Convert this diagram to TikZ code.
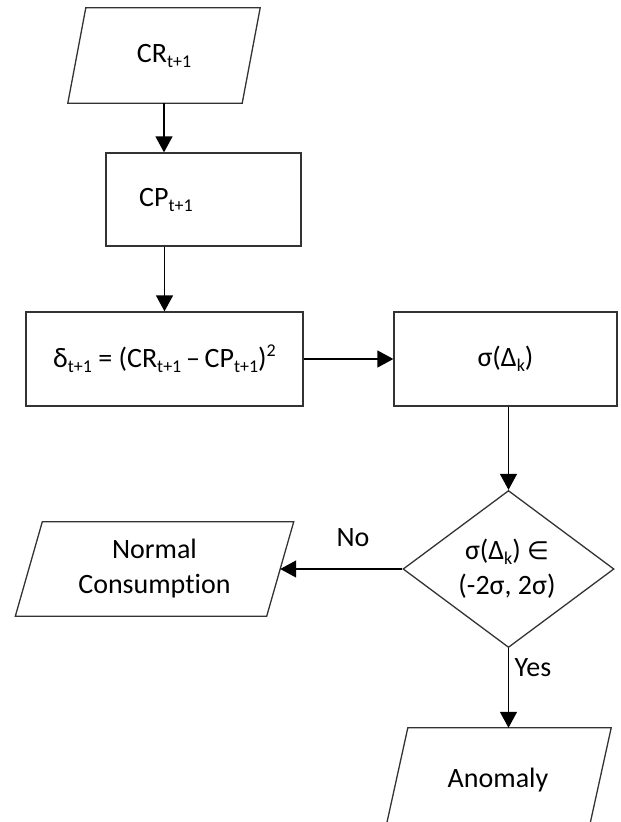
\documentclass[tikz,border=0pt]{standalone}
\usepackage{fontspec}
\setmainfont{Carlito}[Ligatures=NoCommon]
\newfontfamily\symbfont{DejaVu Sans}
\usetikzlibrary{arrows.meta,shapes.geometric,calc}
\newcommand\lowsub[1]{\raisebox{-5pt}{\fontsize{18}{18}\selectfont #1}}
\newcommand\highsup[1]{\raisebox{11pt}{\fontsize{18}{18}\selectfont #1}}
\newcommand\paradraw[2]{\draw[edge] ($(#1.north west)+(#2/2,0)$) -- ($(#1.north east)+(#2/2,0)$) -- ($(#1.south east)-(#2/2,0)$) -- ($(#1.south west)-(#2/2,0)$) -- cycle;}
\begin{document}
\begin{tikzpicture}[x=1pt,y=-1pt,
  font=\fontsize{28}{35}\selectfont,
  edge/.style={draw=black!80, line width=1.3pt},
  arr/.style={-{Triangle[length=16pt,width=17pt]}, draw=black, line width=1.3pt},
  boxnode/.style={rectangle, edge, inner sep=0pt},
  textonly/.style={rectangle, inner sep=0pt, align=center}]
\useasboundingbox (0,0) rectangle (621,822);
% nodes
\node[textonly, minimum width=174pt, minimum height=95pt] (cr) at (164,55.5) {CR\lowsub{t+1}};
\paradraw{cr}{18}
\node[boxnode, minimum width=195pt, minimum height=93pt] (cp) at (203.5,199.5) {};
\node[textonly] (cptext) at (166,200) {CP\lowsub{t+1}};
\node[boxnode, minimum width=277pt, minimum height=94pt] (delta) at (164.5,359) {δ\lowsub{t+1} = (CR\lowsub{t+1}\,–\,CP\lowsub{t+1})\highsup{2}};
\node[boxnode, minimum width=223pt, minimum height=94pt] (sigma) at (505.5,359) {σ(Δ\lowsub{k})};
\node[diamond, edge, minimum width=211pt, minimum height=157pt, inner sep=0pt] (dec) at (508.5,569) {};
\node[textonly] (dectext) at (507,569) {σ(Δ\lowsub{k}) {\symbfont\fontsize{25}{25}\selectfont ∈}\\(-2σ, 2σ)};
\node[textonly, minimum width=251pt, minimum height=94pt] (normal) at (154.5,569) {Normal\\Consumption};
\paradraw{normal}{27}
\node[textonly, minimum width=203pt, minimum height=104pt] (anom) at (498,780) {Anomaly};
\paradraw{anom}{23}
% connectors
\draw[arr] (cr.south) -- (cr.south |- cp.north);
\draw[arr] (delta.north |- cp.south) -- (delta.north);
\draw[arr] (delta.east) -- (sigma.west);
\draw[arr] (dec.north |- sigma.south) -- (dec.north);
\draw[arr] (dec.west) -- (normal.east);
\draw[arr] (dec.south) -- (dec.south |- anom.north);
% labels
\node[textonly] (no) at (353,538) {No};
\node[textonly] (yes) at (533,668) {Yes};
\end{tikzpicture}
\end{document}
